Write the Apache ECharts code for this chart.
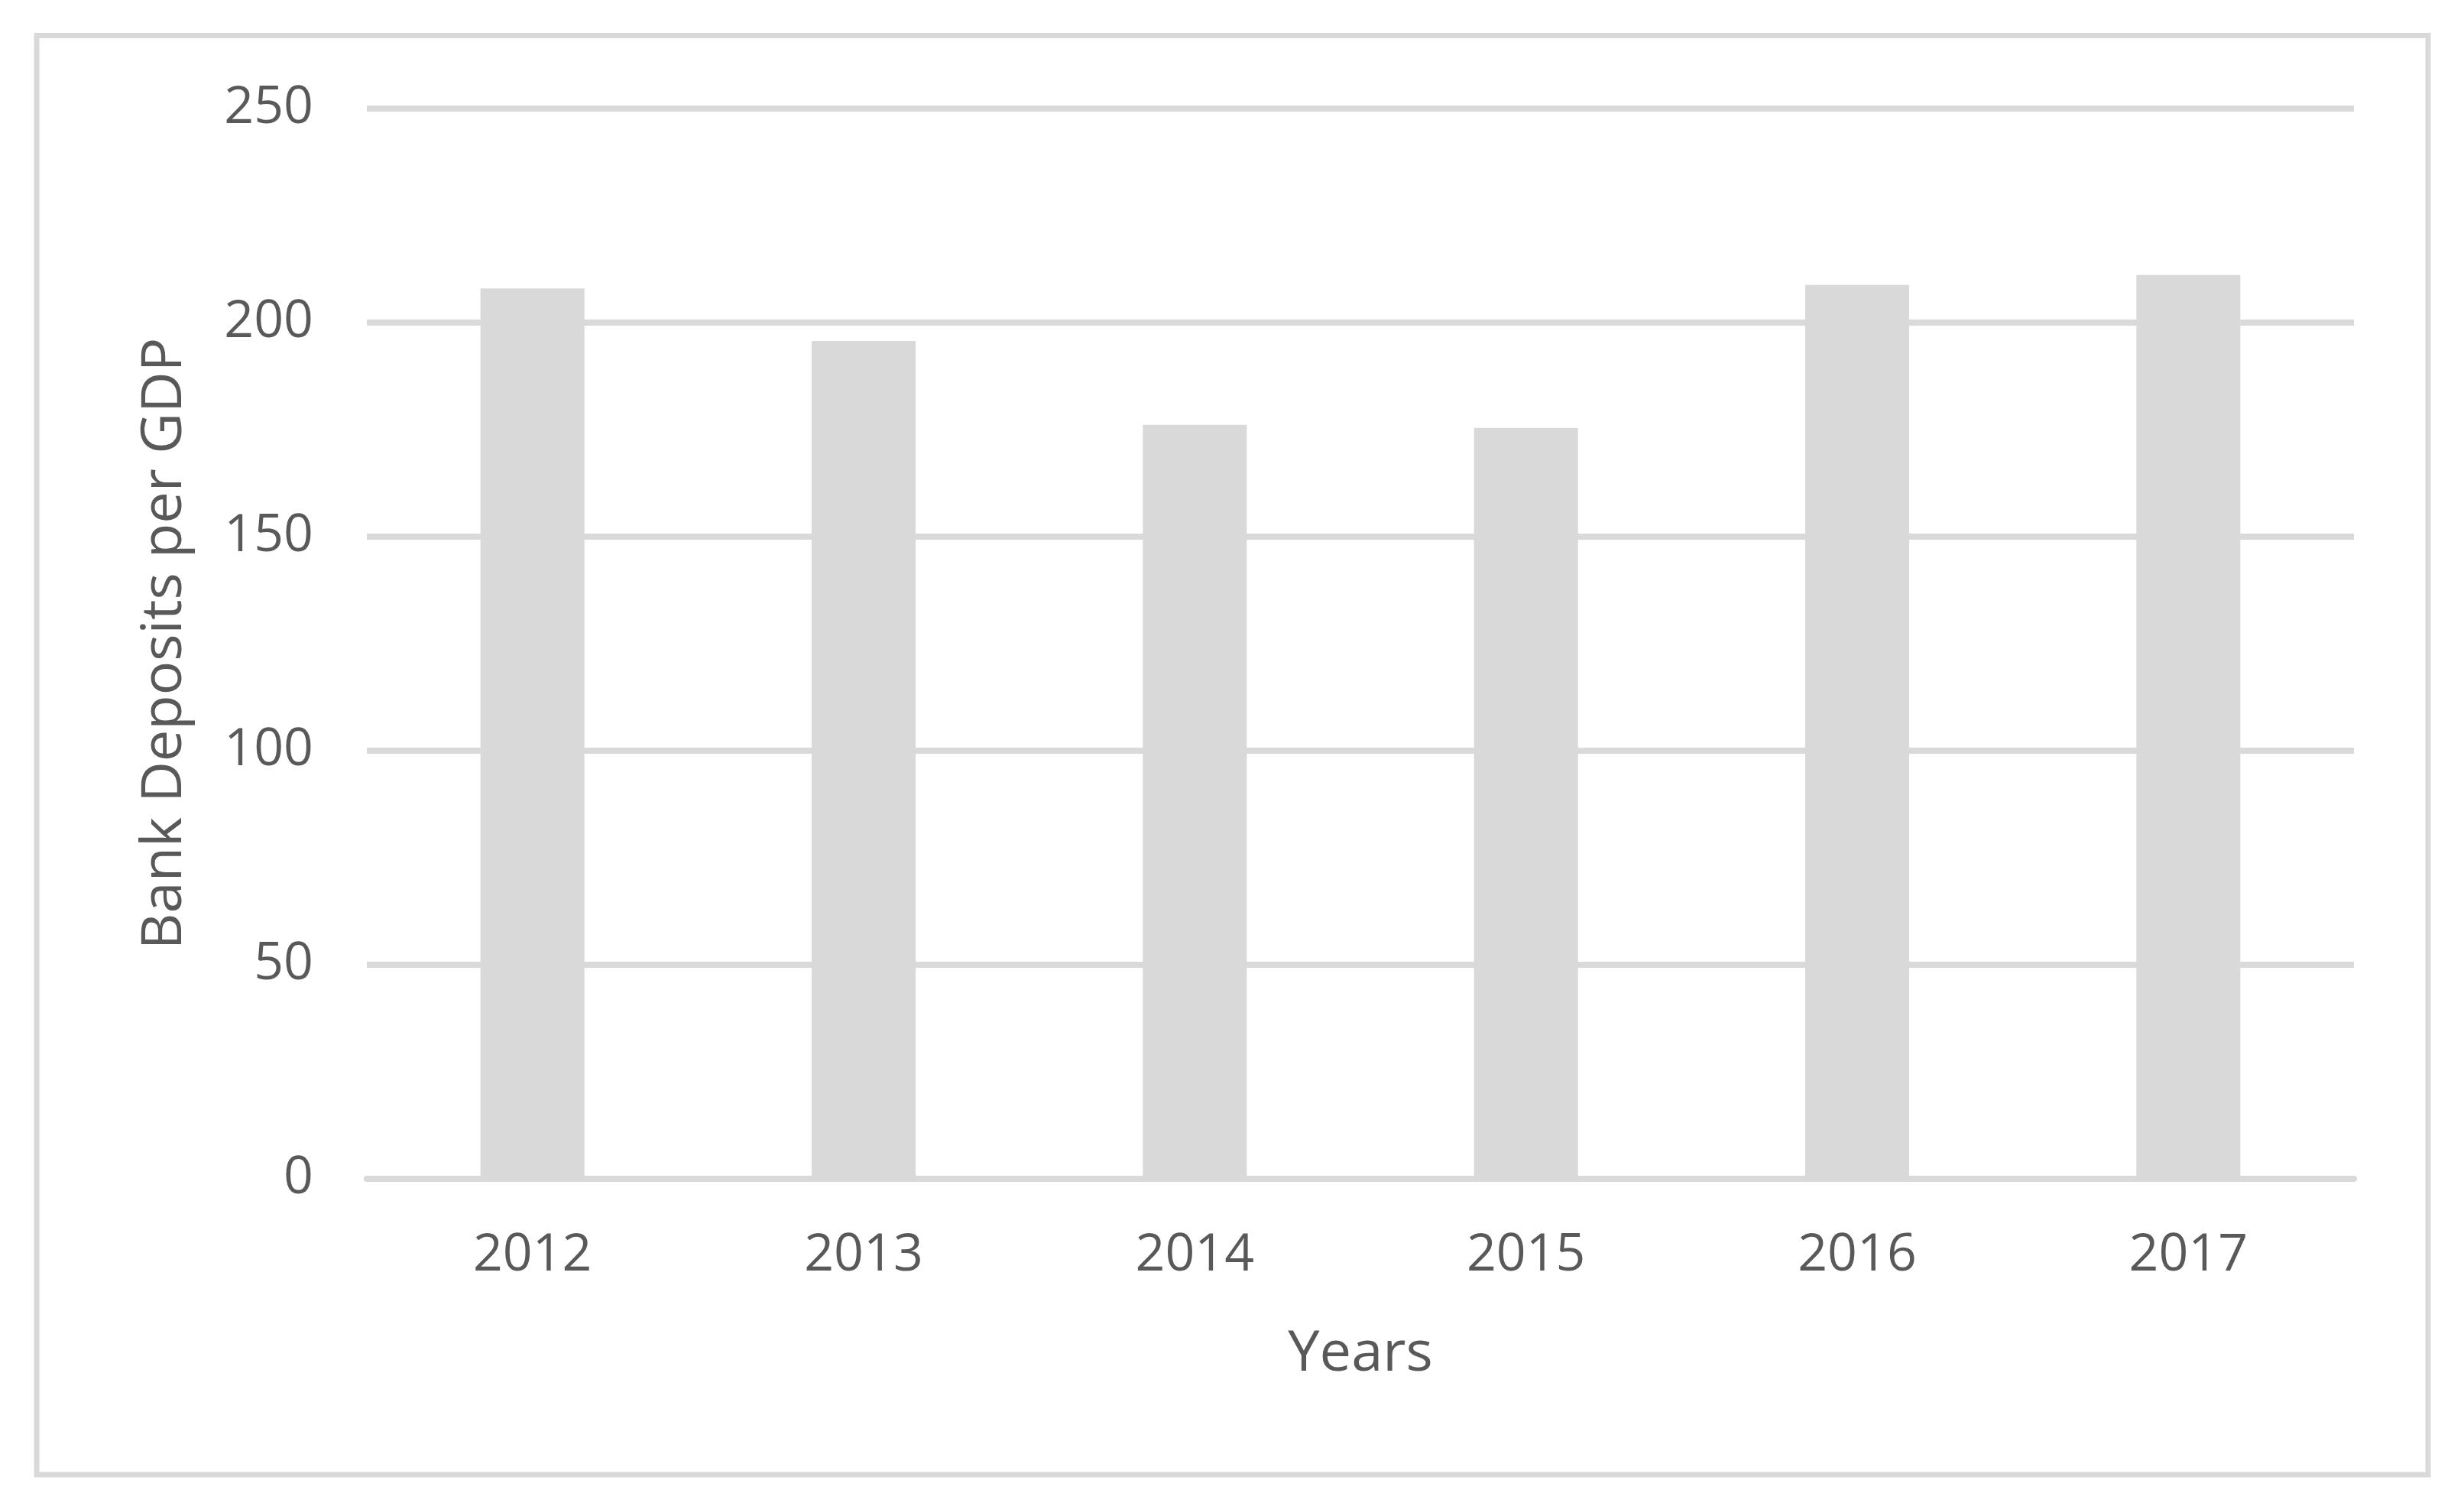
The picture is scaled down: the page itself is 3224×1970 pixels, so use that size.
<!DOCTYPE html>
<html>
<head>
<meta charset="utf-8">
<style>
  html, body { margin: 0; padding: 0; background: #ffffff; }
  #chart { width: 3224px; height: 1970px; }
</style>
<script src="https://cdn.jsdelivr.net/npm/echarts@6/dist/echarts.min.js"></script>
</head>
<body>
<div id="chart"></div>
<script>
const years = ['2012', '2013', '2014', '2015', '2016', '2017'];
const deposits = [208.0, 195.7, 176.1, 175.4, 208.8, 211.1];
const yTicks = { min: 0, max: 250, interval: 50 };
const xTitle = 'Years';
const yTitle = 'Bank Deposits per GDP';

const textColor = '#595959';
const lineColor = '#d9d9d9';
const fontFamily = '"Open Sans", "Liberation Sans", sans-serif';

const chart = echarts.init(document.getElementById('chart'), null, { renderer: 'canvas' });
chart.setOption({
  backgroundColor: '#ffffff',
  animation: false,
  graphic: [{
    type: 'rect',
    shape: { x: 48, y: 46.5, width: 3129, height: 1882.5 },
    style: { fill: 'none', stroke: lineColor, lineWidth: 7 },
    silent: true
  }],
  grid: { left: 480, top: 142, width: 2600, height: 1400, containLabel: false },
  xAxis: {
    type: 'category',
    data: years,
    name: xTitle,
    nameLocation: 'middle',
    nameGap: 193,
    nameTextStyle: { color: textColor, fontSize: 74, fontFamily: fontFamily },
    axisLine: { show: true, lineStyle: { color: lineColor, width: 8 } },
    axisTick: { show: false },
    axisLabel: { color: textColor, fontSize: 68, fontFamily: fontFamily, margin: 67 }
  },
  yAxis: {
    type: 'value',
    min: yTicks.min,
    max: yTicks.max,
    interval: yTicks.interval,
    name: yTitle,
    nameLocation: 'middle',
    nameGap: 227,
    nameTextStyle: { color: textColor, fontSize: 74, fontFamily: fontFamily },
    axisLine: { show: false },
    axisTick: { show: false },
    axisLabel: { color: textColor, fontSize: 68, fontFamily: fontFamily, margin: 70 },
    splitLine: { show: true, lineStyle: { color: lineColor, width: 8 } }
  },
  series: [{
    type: 'bar',
    data: deposits,
    barWidth: '31.4%',
    itemStyle: { color: lineColor }
  }]
});
</script>
</body>
</html>
